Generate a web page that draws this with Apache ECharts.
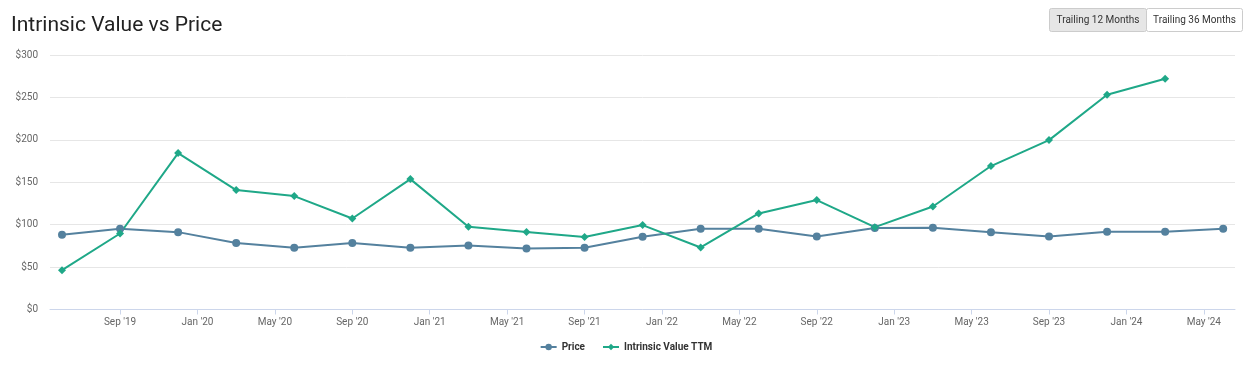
<!DOCTYPE html>
<html><head><meta charset="utf-8">
<script src="https://cdn.jsdelivr.net/npm/echarts@6/dist/echarts.min.js"></script>
<style>html,body{margin:0;padding:0;background:#fff}#c{width:1252px;height:376px}</style>
</head><body><div id="c"></div>
<script>
// Data (quarterly)
const dates = ['2019-06','2019-09','2019-12','2020-03','2020-06','2020-09','2020-12','2021-03','2021-06','2021-09','2021-12','2022-03','2022-06','2022-09','2022-12','2023-03','2023-06','2023-09','2023-12','2024-03','2024-06'];
const price = [88.1, 95.1, 91.2, 78.3, 72.7, 78.3, 72.7, 75.5, 71.9, 72.7, 85.7, 95.1, 95.1, 86.1, 96.0, 96.3, 91.2, 86.1, 91.6, 91.6, 95.1];
const intrinsic = [46.4, 89.6, 184.4, 140.8, 133.7, 107.3, 153.7, 97.5, 91.3, 85.4, 99.5, 73.1, 113.2, 129.0, 97.1, 121.4, 169.1, 199.7, 253.1, 272.0];
const tickDates = ['2019-09','2020-01','2020-05','2020-09','2021-01','2021-05','2021-09','2022-01','2022-05','2022-09','2023-01','2023-05','2023-09','2024-01','2024-05'];
const tickLabels = ["Sep '19","Jan '20","May '20","Sep '20","Jan '21","May '21","Sep '21","Jan '22","May '22","Sep '22","Jan '23","May '23","Sep '23","Jan '24","May '24"];
const yTicks = [0, 50, 100, 150, 200, 250, 300];

function monthIndex(s) { const p = s.split('-'); return (parseInt(p[0]) - 2019) * 12 + (parseInt(p[1]) - 1); }
const tickVals = tickDates.map(monthIndex);
const labelMap = {}; tickVals.forEach((v, i) => labelMap[v] = tickLabels[i]);
const priceData = price.map((v, i) => [monthIndex(dates[i]), v]);
const intrData = intrinsic.map((v, i) => [monthIndex(dates[i]), v]);

const FONT = 'Roboto';
const chart = echarts.init(document.getElementById('c'), null, {renderer: 'canvas'});
chart.setOption({
  animation: false,
  backgroundColor: '#fff',
  textStyle: {fontFamily: FONT},
  title: {text: 'Intrinsic Value vs Price', left: 6, top: 10,
    textStyle: {fontSize: 21, fontWeight: 'normal', color: '#222', fontFamily: FONT}},
  grid: {left: 50, right: 17, top: 55, bottom: 66.5, containLabel: false},
  legend: {bottom: 19, left: 'center', itemWidth: 16, itemHeight: 8, itemGap: 17,
    textStyle: {fontSize: 10, fontWeight: 'bold', color: '#333', fontFamily: FONT},
    data: ['Price', 'Intrinsic Value TTM']},
  xAxis: {type: 'value', min: 4.38, max: 65.61,
    axisLine: {show: true, lineStyle: {color: '#ccd6eb', width: 1}},
    axisTick: {show: true, length: 5, lineStyle: {color: '#ccd6eb'}, customValues: tickVals},
    axisLabel: {customValues: tickVals, formatter: v => labelMap[Math.round(v)] || '', color: '#666', fontSize: 10, margin: 8, fontFamily: FONT},
    splitLine: {show: false}},
  yAxis: {type: 'value', min: 0, max: 300, interval: 50,
    axisLine: {show: false}, axisTick: {show: false},
    axisLabel: {formatter: v => '$' + v, color: '#666', fontSize: 10, margin: 12, fontFamily: FONT},
    splitLine: {lineStyle: {color: '#e6e6e6', width: 1}}},
  series: [
    {name: 'Price', type: 'line', data: priceData, symbol: 'circle', symbolSize: 8,
      lineStyle: {color: '#54819e', width: 2}, itemStyle: {color: '#54819e'}},
    {name: 'Intrinsic Value TTM', type: 'line', data: intrData, symbol: 'diamond', symbolSize: 8,
      lineStyle: {color: '#1fa888', width: 2}, itemStyle: {color: '#1fa888'}}
  ],
  graphic: [
    {type: 'rect', shape: {x: 1049.5, y: 8.5, width: 97, height: 23, r: 2}, style: {fill: '#e6e6e6', stroke: '#cccccc', lineWidth: 1}},
    {type: 'rect', shape: {x: 1146.5, y: 8.5, width: 96, height: 23, r: 2}, style: {fill: '#ffffff', stroke: '#cccccc', lineWidth: 1}},
    {type: 'text', x: 1098, y: 20, style: {text: 'Trailing 12 Months', fill: '#333', font: '10px Roboto', textAlign: 'center', textVerticalAlign: 'middle'}},
    {type: 'text', x: 1194.5, y: 20, style: {text: 'Trailing 36 Months', fill: '#333', font: '10px Roboto', textAlign: 'center', textVerticalAlign: 'middle'}}
  ]
});
</script></body></html>
